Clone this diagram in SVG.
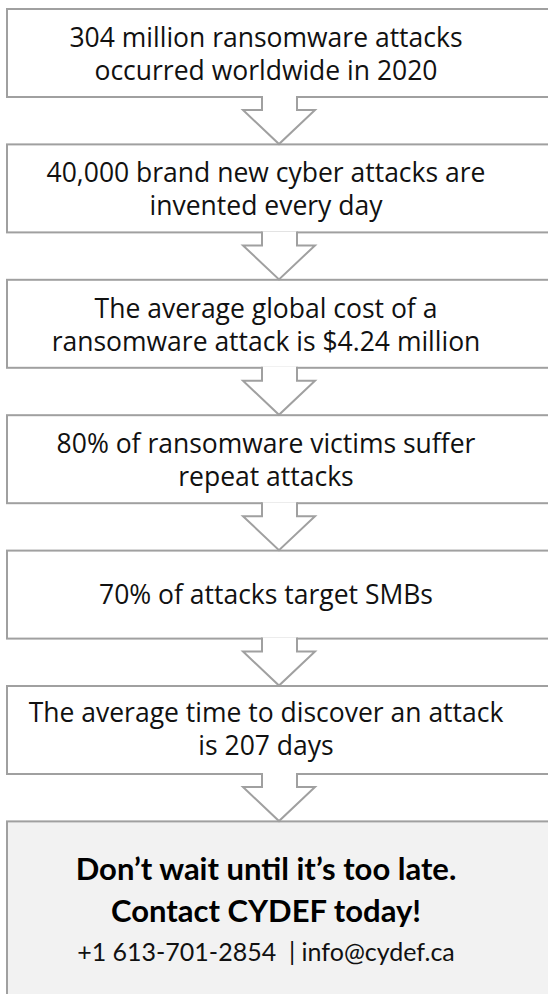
<svg xmlns="http://www.w3.org/2000/svg" width="548" height="994" viewBox="0 0 548 994">
<style>
.box{fill:#ffffff;stroke:#a0a0a0;stroke-width:2}
.cta{fill:#f2f2f2;stroke:#a0a0a0;stroke-width:2}
.arr{fill:#ffffff;stroke:#a0a0a0;stroke-width:2;stroke-linejoin:miter}
.t{font-family:"Open Sans","DejaVu Sans",sans-serif;font-size:26.5px;fill:#111;text-anchor:middle}
.b{font-family:Lato,"Liberation Sans",sans-serif;font-weight:bold;font-size:31px;fill:#000;text-anchor:middle}
.p{font-family:Lato,"Liberation Sans",sans-serif;font-size:25px;fill:#111;text-anchor:middle}
</style>
<rect width="548" height="994" fill="#ffffff"/>
<g id="n1"><rect class="box" x="7" y="9" width="560" height="88"/>
<text class="t" x="266" y="47">304 million ransomware attacks</text>
<text class="t" x="266" y="80">occurred worldwide in 2020</text></g>
<g id="n2"><rect class="box" x="7" y="144.4" width="560" height="88"/>
<text class="t" x="266" y="182.4">40,000 brand new cyber attacks are</text>
<text class="t" x="266" y="215.4">invented every day</text></g>
<g id="n3"><rect class="box" x="7" y="279.8" width="560" height="88"/>
<text class="t" x="266" y="317.8">The average global cost of a</text>
<text class="t" x="266" y="350.8">ransomware attack is $4.24 million</text></g>
<g id="n4"><rect class="box" x="7" y="415.2" width="560" height="88"/>
<text class="t" x="266" y="453.2">80% of ransomware victims suffer</text>
<text class="t" x="266" y="486.2">repeat attacks</text></g>
<g id="n5"><rect class="box" x="7" y="550.6" width="560" height="88"/>
<text class="t" x="266" y="603.5">70% of attacks target SMBs</text></g>
<g id="n6"><rect class="box" x="7" y="686" width="560" height="88"/>
<text class="t" x="266" y="722">The average time to discover an attack</text>
<text class="t" x="266" y="755">is 207 days</text></g>
<g id="n7"><rect class="cta" x="7" y="821.4" width="560" height="200"/>
<text class="b" x="266" y="880">Don’t wait until it’s too late.</text>
<text class="b" x="266" y="922">Contact CYDEF today!</text>
<text class="p" x="266" y="961" xml:space="preserve">+1 613-701-2854  | info@cydef.ca</text></g>
<g id="connectors">
<path class="arr" d="M262,96 V110 H243 L279,144 L315,110 H297 V96"/>
<path class="arr" d="M262,231.4 V245.4 H243 L279,279.4 L315,245.4 H297 V231.4"/>
<path class="arr" d="M262,366.8 V380.8 H243 L279,414.8 L315,380.8 H297 V366.8"/>
<path class="arr" d="M262,502.2 V516.2 H243 L279,550.2 L315,516.2 H297 V502.2"/>
<path class="arr" d="M262,637.6 V651.6 H243 L279,685.6 L315,651.6 H297 V637.6"/>
<path class="arr" d="M262,773 V787 H243 L279,821 L315,787 H297 V773"/>
</g>
</svg>
